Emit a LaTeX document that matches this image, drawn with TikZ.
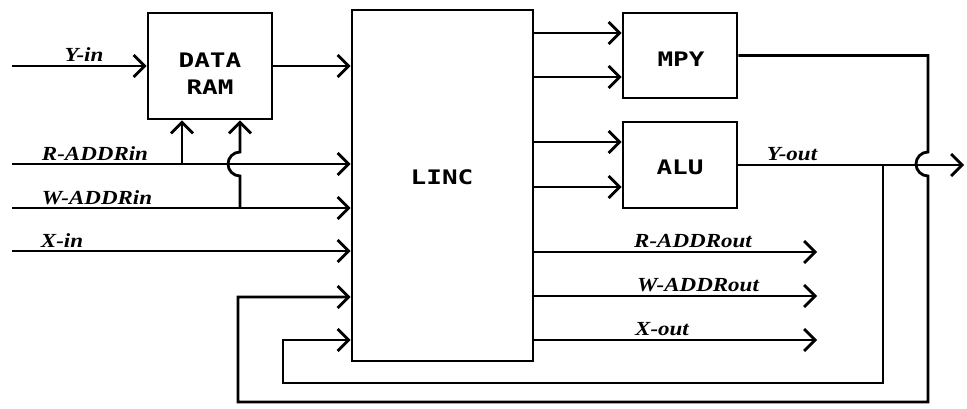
\documentclass[tikz,border=0pt]{standalone}
\usepackage{fontspec}
\usetikzlibrary{arrows.meta}
\newfontfamily\lblfont[FakeStretch=1.15]{Liberation Serif}
\newfontfamily\boxfont[FakeStretch=1.3]{DejaVu Sans Mono}
\tikzset{
  wire/.style={line width=2.8pt},
  arr/.style={wire, -{Straight Barb[length=11pt,width=22pt]}},
  box/.style={draw, line width=2.8pt, inner sep=0pt},
  lbl/.style={font=\lblfont\bfseries\itshape\fontsize{20}{24}\selectfont, inner sep=0pt, anchor=base},
  btxt/.style={font=\boxfont\bfseries\fontsize{20}{27}\selectfont, align=center, inner sep=0pt}
}
\begin{document}
\begin{tikzpicture}[x=1pt,y=-1pt]
\useasboundingbox (0,0) rectangle (967,408);
% boxes
\node[box, minimum width=124pt, minimum height=106pt] (ram) at (210,66) {};
\node[btxt] (ramtxt) at (210,74) {DATA\\RAM};
\node[box, minimum width=181pt, minimum height=351pt] (linc) at (442.5,185.5) {};
\node[btxt] (linctxt) at (442,177) {LINC};
\node[box, minimum width=114pt, minimum height=85pt] (mpy) at (680,55.5) {};
\node[btxt] (mpytxt) at (681,59) {MPY};
\node[box, minimum width=114pt, minimum height=86pt] (alu) at (680,165) {};
\node[btxt] (alutxt) at (680,167) {ALU};
% coordinates
\coordinate (yin) at (12,66);
\coordinate (rin) at (12,164);
\coordinate (win) at (12,208);
\coordinate (xin) at (12,251);
\coordinate (rb) at (182,164);
\coordinate (wb) at (240,208);
\coordinate (whop) at (240,176);
\coordinate (hopA) at (928,152);
\coordinate (bot1) at (928,402);
\coordinate (fb1) at (238,297);
\coordinate (yout) at (964,165);
\coordinate (ybr) at (883,165);
\coordinate (bot2) at (883,383);
\coordinate (fb2) at (283,340);
\coordinate (ro) at (817,252);
\coordinate (wo) at (817,296);
\coordinate (xo) at (817,340);
% inputs
\draw[arr] (yin) -- (ram.west);
\draw[arr] (ram.east) -- (ram.east -| linc.west);
\draw[arr] (rin) -- (rin -| linc.west);
\draw[arr] (win) -- (win -| linc.west);
\draw[arr] (xin) -- (xin -| linc.west);
\draw[arr] (rb) -- (rb |- ram.south);
\draw[arr] (wb) -- (whop) arc[start angle=90,end angle=270,radius=12] -- (wb |- ram.south);
% LINC to MPY / ALU
\draw[arr] (linc.east |- 0,33) -- (mpy.west |- 0,33);
\draw[arr] (linc.east |- 0,77) -- (mpy.west |- 0,77);
\draw[arr] (linc.east |- 0,142) -- (alu.west |- 0,142);
\draw[arr] (linc.east |- 0,187) -- (alu.west |- 0,187);
% outputs
\draw[arr] (ro -| linc.east) -- (ro);
\draw[arr] (wo -| linc.east) -- (wo);
\draw[arr] (xo -| linc.east) -- (xo);
\draw[arr] (alu.east) -- (yout);
% feedback loops
\draw[arr] (mpy.east) -| (hopA) arc[start angle=270,end angle=90,radius=12] -- (bot1) -| (fb1) -- (fb1 -| linc.west);
\draw[arr] (ybr) -- (bot2) -| (fb2) -- (fb2 -| linc.west);
% labels
\node[lbl] (lyin) at (84,61) {Y-in};
\node[lbl] (lrin) at (95,160) {R-ADDRin};
\node[lbl] (lwin) at (97,204) {W-ADDRin};
\node[lbl] (lxin) at (62,247) {X-in};
\node[lbl] (lro) at (693,247) {R-ADDRout};
\node[lbl] (lwo) at (698,291) {W-ADDRout};
\node[lbl] (lxo) at (662,335) {X-out};
\node[lbl] (lyo) at (792,160) {Y-out};
\end{tikzpicture}
\end{document}
